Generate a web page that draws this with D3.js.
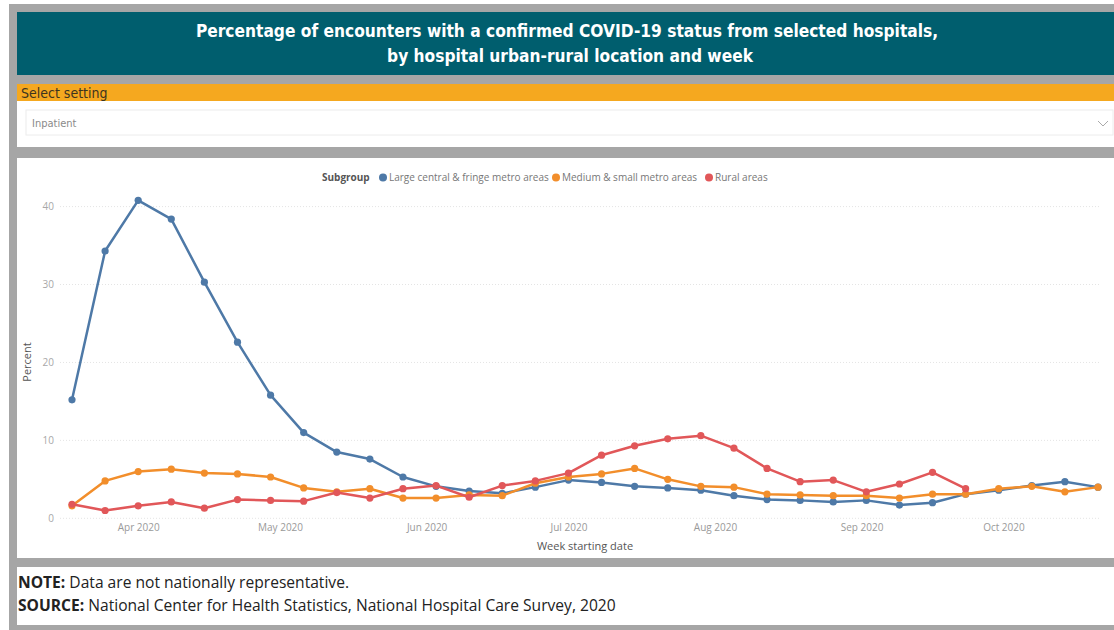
<!DOCTYPE html>
<html>
<head>
<meta charset="utf-8">
<script src="https://cdn.jsdelivr.net/npm/d3@7"></script>
<style>
  body { margin: 0; background: #fff; }
  svg { display: block; }
</style>
</head>
<body>
<svg width="1114" height="630"></svg>
<script>
// week start dates (weekly, Mar 18 - Oct 21 2020)
var weeks = d3.range(32).map(i => d3.timeDay.offset(new Date(2020, 2, 18), i * 7));

var largeMetro = [15.2, 34.3, 40.8, 38.4, 30.3, 22.6, 15.8, 11.0, 8.5, 7.6, 5.3, 4.1, 3.5, 3.2, 4.0, 4.9,
  4.6, 4.1, 3.9, 3.6, 2.9, 2.4, 2.3, 2.1, 2.3, 1.7, 2.0, 3.1, 3.6, 4.2, 4.7, 4.0];
var mediumMetro = [1.6, 4.8, 6.0, 6.3, 5.8, 5.7, 5.3, 3.9, 3.4, 3.8, 2.6, 2.6, 3.0, 2.9, 4.5, 5.3,
  5.7, 6.4, 5.0, 4.1, 4.0, 3.1, 3.0, 2.9, 2.9, 2.6, 3.1, 3.1, 3.8, 4.1, 3.4, 4.0];
var rural = [1.8, 1.0, 1.6, 2.1, 1.3, 2.4, 2.3, 2.2, 3.3, 2.6, 3.8, 4.2, 2.7, 4.2, 4.8, 5.8,
  8.1, 9.3, 10.2, 10.6, 9.0, 6.4, 4.7, 4.9, 3.4, 4.4, 5.9, 3.8, null, null, null, null];

var seriesNames = ["Large central & fringe metro areas", "Medium & small metro areas", "Rural areas"];
var seriesColors = ["#4e79a7", "#f28e2b", "#e15759"];
var yTicks = [0, 10, 20, 30, 40];
var xTicks = [new Date(2020, 3, 1), new Date(2020, 4, 1), new Date(2020, 5, 1),
  new Date(2020, 6, 1), new Date(2020, 7, 1), new Date(2020, 8, 1), new Date(2020, 9, 1)];

var svg = d3.select("svg");
var gray = "#a6a6a6";
var condensed = "'DejaVu Sans Condensed', 'DejaVu Sans', sans-serif";
var ui = "'Open Sans', 'Noto Sans', sans-serif";

// frame
svg.append("rect").attr("x", 9).attr("y", 4).attr("width", 1105).attr("height", 626).attr("fill", gray);
svg.append("rect").attr("x", 17).attr("y", 12).attr("width", 1097).attr("height", 63).attr("fill", "#005e6e");
svg.append("rect").attr("x", 17).attr("y", 84).attr("width", 1097).attr("height", 17).attr("fill", "#f5a81f");
svg.append("rect").attr("x", 17).attr("y", 101).attr("width", 1097).attr("height", 46).attr("fill", "#fff");
svg.append("rect").attr("x", 17).attr("y", 158).attr("width", 1097).attr("height", 400).attr("fill", "#fff");
svg.append("rect").attr("x", 17).attr("y", 567).attr("width", 1097).attr("height", 58).attr("fill", "#fff");

// title
var title = svg.append("text")
  .attr("text-anchor", "middle")
  .attr("fill", "#fff")
  .style("font-family", condensed)
  .style("font-weight", "bold")
  .style("font-size", "17.2px");
title.append("tspan").attr("x", 567).attr("y", 37).text("Percentage of encounters with a confirmed COVID-19 status from selected hospitals,");
title.append("tspan").attr("x", 570).attr("y", 62).text("by hospital urban-rural location and week");

// slicer
svg.append("text").attr("x", 21).attr("y", 98)
  .attr("fill", "#3d3420")
  .style("font-family", condensed)
  .style("font-size", "14px")
  .text("Select setting");
svg.append("rect").attr("x", 26).attr("y", 110).attr("width", 1087).attr("height", 25)
  .attr("fill", "#fff").attr("stroke", "#ececec");
svg.append("text").attr("x", 32).attr("y", 127)
  .attr("fill", "#8a8a8a")
  .style("font-family", condensed)
  .style("font-size", "11px")
  .text("Inpatient");
svg.append("path").attr("d", "M1098,121 l5,5 l5,-5")
  .attr("fill", "none").attr("stroke", "#aaa").attr("stroke-width", 1);

// chart
var x = d3.scaleTime().domain([weeks[0], weeks[weeks.length - 1]]).range([72, 1098]);
var y = d3.scaleLinear().domain([0, 42]).range([518.3, 191]);

var grid = svg.append("g");
grid.selectAll("line").data(yTicks).enter().append("line")
  .attr("x1", 60).attr("x2", 1100)
  .attr("y1", d => y(d)).attr("y2", d => y(d))
  .attr("stroke", "#e4e4e4").attr("stroke-dasharray", "1,2");

var yAxis = svg.append("g")
  .attr("transform", "translate(56,0)")
  .call(d3.axisLeft(y).tickValues(yTicks).tickSize(0).tickPadding(2));
yAxis.select(".domain").remove();
yAxis.selectAll("text").attr("fill", "#a8a8a8").style("font-family", ui).style("font-size", "10px");

var xAxis = svg.append("g")
  .attr("transform", "translate(0,522)")
  .call(d3.axisBottom(x).tickValues(xTicks).tickFormat(d3.timeFormat("%b %Y")).tickSize(0).tickPadding(2));
xAxis.select(".domain").remove();
xAxis.selectAll("text").attr("fill", "#999").style("font-family", ui).style("font-size", "10px");

svg.append("text")
  .attr("transform", "translate(31,362) rotate(-90)")
  .attr("text-anchor", "middle")
  .attr("fill", "#555")
  .style("font-family", ui).style("font-size", "11px")
  .text("Percent");
svg.append("text")
  .attr("x", 585).attr("y", 550)
  .attr("text-anchor", "middle")
  .attr("fill", "#555")
  .style("font-family", ui).style("font-size", "11px")
  .text("Week starting date");

var allSeries = [largeMetro, mediumMetro, rural];
var line = d3.line()
  .defined(d => d.v != null)
  .x(d => x(d.date))
  .y(d => y(d.v));

allSeries.forEach((vals, i) => {
  var pts = vals.map((v, j) => ({ date: weeks[j], v: v }));
  var g = svg.append("g");
  g.append("path")
    .datum(pts)
    .attr("d", line)
    .attr("fill", "none")
    .attr("stroke", seriesColors[i])
    .attr("stroke-width", 2.5)
    .attr("stroke-linejoin", "round");
  g.selectAll("circle").data(pts.filter(d => d.v != null)).enter().append("circle")
    .attr("cx", d => x(d.date)).attr("cy", d => y(d.v))
    .attr("r", 3.6)
    .attr("fill", seriesColors[i]);
});

// legend
var legend = svg.append("g").attr("transform", "translate(322,181)");
legend.append("text")
  .attr("fill", "#555")
  .style("font-family", ui).style("font-size", "10px").style("font-weight", "bold")
  .text("Subgroup");
var legendX = [61, 234, 387];
seriesNames.forEach((n, i) => {
  legend.append("circle").attr("cx", legendX[i]).attr("cy", -3.5).attr("r", 4).attr("fill", seriesColors[i]);
  legend.append("text").attr("x", legendX[i] + 6).attr("fill", "#777")
    .style("font-family", ui).style("font-size", "10px")
    .text(n);
});

// footer
var note = svg.append("text").attr("x", 18).attr("y", 588)
  .attr("fill", "#222").style("font-family", ui).style("font-size", "15.6px");
note.append("tspan").style("font-weight", "bold").text("NOTE:");
note.append("tspan").text(" Data are not nationally representative.");
var source = svg.append("text").attr("x", 18).attr("y", 611)
  .attr("fill", "#222").style("font-family", ui).style("font-size", "15.6px");
source.append("tspan").style("font-weight", "bold").text("SOURCE:");
source.append("tspan").text(" National Center for Health Statistics, National Hospital Care Survey, 2020");
</script>
</body>
</html>
